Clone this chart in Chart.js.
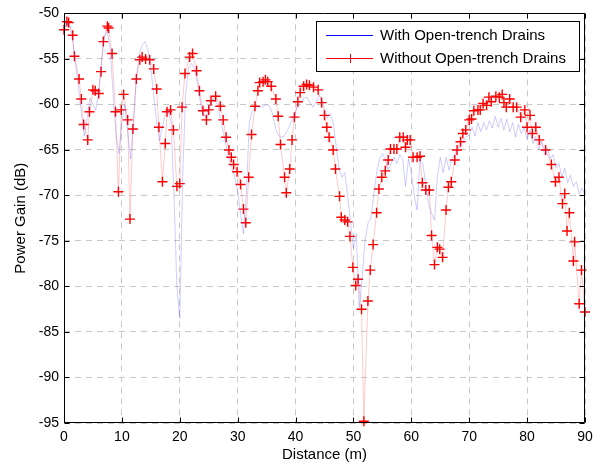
<!DOCTYPE html>
<html>
<head>
<meta charset="utf-8">
<script src="https://cdn.jsdelivr.net/npm/chart.js@4/dist/chart.umd.min.js"></script>
<style>
  html, body { margin: 0; padding: 0; background: #fff; }
  #wrap { width: 603px; height: 464px; }
</style>
</head>
<body>
<div id="wrap"><canvas id="chart" width="603" height="464"></canvas></div>
<script>
// "With Open-trench Drains": sampled every 0.5 m from 0 to 90 m
var blueStep = 0.5
var blueGain = [
  -52.0, -51.0, -51.5, -53.0, -55.5, -58.0, -61.0, -63.5, -61.5, -59.3,
  -60.0, -60.6, -58.5, -55.0, -52.5, -52.0, -54.0, -59.0, -63.5, -65.4,
  -62.0, -60.0, -63.0, -66.0, -62.0, -57.0, -54.5, -53.5, -53.1, -54.0,
  -56.0, -59.0, -62.0, -64.0, -62.5, -61.0, -60.6, -62.0, -70.0, -80.0,
  -83.5, -68.0, -59.0, -56.0, -55.5, -56.0, -57.5, -59.5, -61.2, -61.3,
  -60.5, -59.5, -59.4, -60.0, -61.5, -63.0, -64.5, -66.0, -67.0, -68.0,
  -69.5, -72.0, -74.2, -70.0, -62.0, -60.8, -60.3, -60.2, -60.3, -60.2,
  -60.0, -60.2, -61.0, -62.5, -63.4, -63.6, -63.5, -63.0, -62.3, -61.5,
  -60.8, -60.0, -59.6, -59.3, -59.2, -59.8, -60.3, -59.8, -59.0, -59.3,
  -60.5, -61.5, -61.0, -62.0, -64.5, -67.0, -68.0, -67.5, -70.0, -73.0,
  -75.8, -74.2, -82.3, -79.0, -75.0, -73.1, -72.5, -70.0, -67.5, -66.0,
  -65.4, -66.0, -67.2, -66.5, -65.8, -66.5, -65.5, -66.0, -69.0, -66.0,
  -67.5, -70.0, -71.6, -66.1, -66.5, -69.0, -71.0, -72.0, -72.7, -68.0,
  -65.8, -67.5, -65.8, -67.2, -66.0, -65.5, -64.8, -64.7, -64.0, -63.5,
  -63.4, -62.5, -63.5, -62.0, -63.0, -62.0, -62.8, -61.8, -62.6, -61.3,
  -62.5, -61.5, -62.8, -61.6, -63.0, -62.0, -63.6, -62.2, -63.2, -62.5,
  -63.8, -62.8, -64.3, -63.5, -65.0, -64.0, -65.5, -64.8, -66.0, -65.5,
  -67.0, -66.5, -68.0, -67.0, -68.6, -67.8, -69.0, -68.5, -69.8, -69.2,
  -70.0
]

// "Without Open-trench Drains": measured points
var redDist = [
  0.0, 0.5, 0.8, 1.5, 1.8, 2.6, 3.0, 3.4, 4.1, 4.4,
  5.0, 5.4, 6.0, 6.4, 6.8, 7.5, 7.7, 8.3, 8.9, 9.4,
  9.9, 10.3, 11.0, 11.4, 11.9, 12.5, 13.1, 13.5, 14.1, 14.8,
  15.5, 16.0, 16.4, 17.0, 17.5, 17.8, 18.4, 18.9, 19.5, 20.0,
  20.4, 20.9, 21.7, 22.2, 22.9, 23.4, 24.0, 24.6, 25.0, 25.4,
  26.2, 27.0, 27.5, 28.0, 28.5, 28.9, 29.3, 29.9, 30.5, 31.0,
  31.4, 31.9, 32.4, 33.0, 33.5, 33.8, 34.4, 34.8, 35.2, 35.8,
  36.6, 37.0, 37.4, 38.1, 38.4, 39.0, 39.4, 39.8, 40.4, 40.8,
  41.4, 41.9, 42.4, 43.1, 43.9, 44.5, 45.0, 45.4, 45.8, 46.5,
  46.9, 47.6, 47.9, 48.5, 49.0, 49.4, 49.9, 50.4, 50.8, 51.4,
  51.8, 52.5, 52.9, 53.4, 54.0, 54.4, 54.9, 55.5, 56.0, 56.4,
  57.0, 57.5, 58.0, 58.6, 59.0, 59.3, 59.8, 60.3, 61.0, 61.5,
  61.9, 62.5, 63.1, 63.5, 64.0, 64.5, 64.9, 65.4, 66.0, 66.4,
  66.9, 67.5, 67.9, 68.5, 68.9, 69.4, 70.0, 70.4, 70.8, 71.5,
  71.9, 72.4, 73.0, 73.4, 73.8, 74.6, 75.2, 75.7, 76.0, 76.4,
  77.0, 77.6, 78.2, 78.9, 79.6, 80.0, 80.5, 80.9, 81.5, 82.1,
  83.2, 84.2, 84.9, 85.5, 86.1, 86.5, 86.9, 87.3, 88.0, 88.2,
  89.0, 89.4, 90.0
]
var redGain = [
  -51.8, -50.9, -51.0, -52.4, -54.7, -57.2, -59.4, -62.2, -63.9, -60.8,
  -58.4, -58.5, -58.8, -56.4, -53.1, -51.4, -51.6, -54.4, -60.8, -69.6,
  -60.6, -58.9, -61.7, -72.6, -62.7, -57.2, -55.1, -54.8, -55.0, -55.1,
  -56.1, -58.3, -62.5, -68.5, -64.3, -60.8, -60.6, -62.8, -69.0, -68.7,
  -60.3, -56.6, -54.8, -54.4, -56.3, -58.5, -60.7, -61.7, -60.6, -59.6,
  -59.1, -60.2, -61.7, -63.6, -65.0, -65.8, -66.6, -67.4, -68.8, -71.5,
  -73.0, -68.0, -63.3, -60.2, -58.5, -57.6, -57.5, -57.3, -57.5, -58.0,
  -59.4, -61.3, -64.4, -68.0, -69.7, -67.1, -63.9, -61.4, -59.7, -58.7,
  -58.0, -57.8, -57.9, -58.1, -58.4, -59.8, -61.2, -62.5, -63.6, -65.0,
  -67.1, -70.1, -72.4, -72.7, -72.9, -74.5, -77.9, -79.9, -79.2, -82.5,
  -94.8, -81.6, -78.2, -75.4, -71.9, -69.3, -68.0, -67.3, -66.1, -64.9,
  -64.9, -64.9, -63.6, -63.6, -64.7, -63.9, -63.9, -65.8, -65.8, -65.7,
  -68.6, -69.4, -69.4, -74.4, -77.6, -75.7, -75.9, -76.8, -71.6, -69.1,
  -68.5, -66.1, -65.0, -64.1, -63.2, -62.8, -61.7, -61.6, -60.7, -60.6,
  -60.6, -59.9, -60.1, -59.2, -59.7, -59.1, -59.2, -58.9, -59.8, -60.3,
  -59.4, -60.3, -60.3, -61.4, -60.6, -62.5, -61.2, -63.2, -62.5, -63.9,
  -65.0, -66.6, -68.5, -68.0, -70.9, -69.8, -73.9, -71.9, -77.2, -75.1,
  -81.9, -78.2, -82.8
]

var xTicks = [0, 10, 20, 30, 40, 50, 60, 70, 80, 90]
var yTicks = [-95, -90, -85, -80, -75, -70, -65, -60, -55, -50]

var FONT = "'Liberation Sans', Arial, Helvetica, sans-serif"

function toPoints (xs, ys) {
  return ys.map(function (y, i) { return { x: xs[i], y: y } })
}

var blueDist = blueGain.map(function (v, i) { return i * blueStep })

// box, inward ticks on all four sides and the legend, MATLAB style
var framePlugin = {
  id: 'frame',
  afterDatasetsDraw: function (chart) {
    var ctx = chart.ctx
    var a = chart.chartArea
    var xs = chart.scales.x
    var ys = chart.scales.y
    var l = Math.round(a.left) + 0.5
    var r = Math.round(a.right) - 0.5
    var t = Math.round(a.top) + 0.5
    var b = Math.round(a.bottom) - 0.5
    var tl = 5
    ctx.save()
    ctx.strokeStyle = '#000'
    ctx.lineWidth = 1
    ctx.beginPath()
    ctx.rect(l, t, r - l, b - t)
    xTicks.forEach(function (v) {
      var px = Math.round(xs.getPixelForValue(v)) + 0.5
      ctx.moveTo(px, b); ctx.lineTo(px, b - tl)
      ctx.moveTo(px, t); ctx.lineTo(px, t + tl)
    })
    yTicks.forEach(function (v) {
      var py = Math.round(ys.getPixelForValue(v)) + 0.5
      ctx.moveTo(l, py); ctx.lineTo(l + tl, py)
      ctx.moveTo(r, py); ctx.lineTo(r - tl, py)
    })
    ctx.stroke()

    // legend
    var lx = 316.5, ly = 21.5, lw = 263, lh = 50
    ctx.fillStyle = '#fff'
    ctx.fillRect(lx, ly, lw, lh)
    ctx.strokeRect(lx, ly, lw, lh)
    var rows = [35, 58]
    ctx.font = '15px ' + FONT
    ctx.textBaseline = 'middle'
    chart.data.datasets.forEach(function (ds, i) {
      var y = rows[i] + 0.5
      ctx.strokeStyle = ds.legendColor
      ctx.beginPath()
      ctx.moveTo(326, y); ctx.lineTo(373, y)
      if (ds.pointStyle === 'cross') {
        ctx.moveTo(350.5, y - 4.5); ctx.lineTo(350.5, y + 4.5)
        ctx.moveTo(346, y); ctx.lineTo(355, y)
      }
      ctx.stroke()
      ctx.fillStyle = '#000'
      ctx.fillText(ds.label, 380, rows[i] + 1)
    })
    ctx.restore()
  }
}

var chart = new Chart(document.getElementById('chart'), {
  type: 'scatter',
  data: {
    datasets: [
      {
        label: 'With Open-trench Drains',
        data: toPoints(blueDist, blueGain),
        showLine: true,
        borderColor: 'rgba(60, 60, 255, 0.25)',
        legendColor: '#0000ff',
        borderWidth: 1,
        pointRadius: 0,
        clip: false
      },
      {
        label: 'Without Open-trench Drains',
        data: toPoints(redDist, redGain),
        showLine: true,
        borderColor: 'rgba(255, 80, 80, 0.3)',
        legendColor: '#ff0000',
        borderWidth: 1,
        pointStyle: 'cross',
        pointRadius: 5,
        pointBorderColor: '#ff0000',
        pointBackgroundColor: '#ff0000',
        pointBorderWidth: 1.4,
        clip: false
      }
    ]
  },
  options: {
    responsive: false,
    animation: false,
    layout: { padding: { top: 13, right: 18, left: 0, bottom: 0 } },
    plugins: {
      legend: { display: false },
      tooltip: { enabled: false }
    },
    scales: {
      x: {
        type: 'linear',
        min: 0,
        max: 90,
        afterFit: function (s) { s.height = 41 },
        afterBuildTicks: function (s) { s.ticks = xTicks.map(function (v) { return { value: v } }) },
        grid: { color: '#c8c8c8', lineWidth: 1, drawTicks: false },
        border: { display: false, dash: [6, 5] },
        ticks: { color: '#000', padding: 6, font: { family: FONT, size: 14 } },
        title: { display: true, text: 'Distance (m)', color: '#000', padding: { top: 0, bottom: 0 }, font: { family: FONT, size: 15 } }
      },
      y: {
        type: 'linear',
        min: -95,
        max: -50,
        afterFit: function (s) { s.width = 64 },
        afterBuildTicks: function (s) { s.ticks = yTicks.map(function (v) { return { value: v } }) },
        grid: { color: '#c8c8c8', lineWidth: 1, drawTicks: false },
        border: { display: false, dash: [6, 5] },
        ticks: { color: '#000', padding: 5, font: { family: FONT, size: 14 } },
        title: { display: true, text: 'Power Gain (dB)', color: '#000', padding: { top: 12, bottom: 0 }, font: { family: FONT, size: 15 } }
      }
    }
  },
  plugins: [framePlugin]
})
</script>
</body>
</html>
